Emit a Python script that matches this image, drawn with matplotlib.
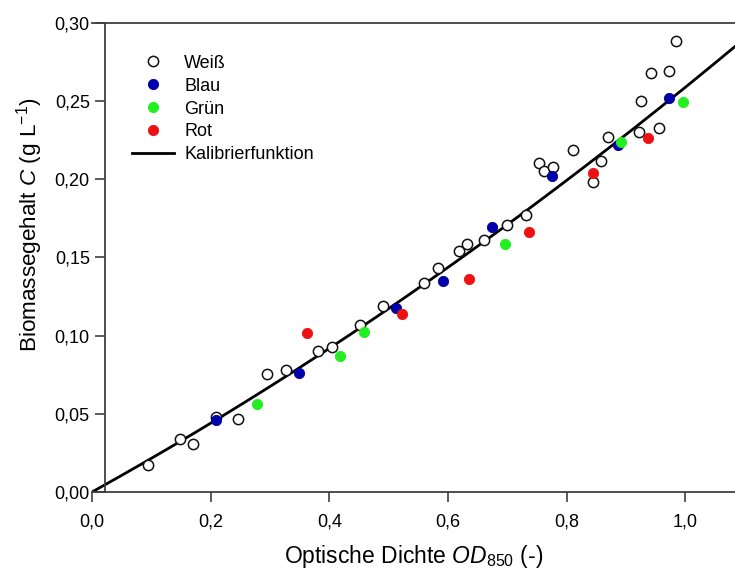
import numpy as np
import matplotlib
matplotlib.use("Agg")
import matplotlib.pyplot as plt
from matplotlib.ticker import FuncFormatter, MultipleLocator

plt.rcParams['font.family'] = ['Liberation Sans', 'DejaVu Sans']
plt.rcParams['mathtext.fontset'] = 'custom'
plt.rcParams['mathtext.rm'] = 'Liberation Sans'
plt.rcParams['mathtext.it'] = 'Liberation Sans:italic'

# ---- data ----
weiss_x = [0.095, 0.148, 0.171, 0.209, 0.246, 0.2945, 0.3266, 0.3817, 0.4047, 0.452,
           0.490, 0.559, 0.584, 0.619, 0.632, 0.661, 0.700, 0.732, 0.754, 0.762,
           0.777, 0.811, 0.845, 0.858, 0.870, 0.923, 0.925, 0.943, 0.9556, 0.972, 0.985]
weiss_y = [0.0173, 0.0337, 0.0309, 0.0482, 0.0469, 0.0755, 0.078, 0.090, 0.093, 0.107,
           0.119, 0.1335, 0.143, 0.1544, 0.1587, 0.1612, 0.1706, 0.177, 0.2103, 0.2052,
           0.2077, 0.2188, 0.198, 0.212, 0.2273, 0.2303, 0.250, 0.2679, 0.2331, 0.2696, 0.2885]
blau_x = [0.2086, 0.349, 0.5126, 0.591, 0.674, 0.776, 0.886, 0.972]
blau_y = [0.046, 0.0763, 0.1177, 0.135, 0.1693, 0.2022, 0.2222, 0.2523]
gruen_x = [0.278, 0.418, 0.459, 0.696, 0.8915, 0.996]
gruen_y = [0.0563, 0.0872, 0.1026, 0.1587, 0.2237, 0.2495]
rot_x = [0.3626, 0.523, 0.636, 0.736, 0.844, 0.937]
rot_y = [0.102, 0.1137, 0.1365, 0.1661, 0.2043, 0.2265]
# calibration function C = a*OD + b*OD^2
kal_a = 0.2103
kal_b = 0.0485

W, H = 735, 572
fig = plt.figure(figsize=(W / 100, H / 100), dpi=100)
ax = fig.add_axes([92 / W, 1 - 492 / H, 1 - 92 / W, (492 - 23) / H])

xlim = (0.0, 1.084)
ax.set_xlim(*xlim)
ax.set_ylim(0.0, 0.30)

xc = np.linspace(0, xlim[1], 200)
ax.plot(xc, kal_a * xc + kal_b * xc ** 2, color='black', lw=2.0, zorder=2,
        label='Kalibrierfunktion')

ms = 7.4
ax.plot(weiss_x, weiss_y, 'o', ms=ms, mfc='white', mec='#111111', mew=1.1, zorder=3,
        label='Weiß', clip_on=False)
ax.plot(blau_x, blau_y, 'o', ms=ms, mfc='#0000b0', mec='#000080', mew=0.6, zorder=4,
        label='Blau')
ax.plot(gruen_x, gruen_y, 'o', ms=ms, mfc='#22ee22', mec='#22ee22', mew=0.6, zorder=4,
        label='Grün')
ax.plot(rot_x, rot_y, 'o', ms=ms, mfc='#ee1111', mec='#ee1111', mew=0.6, zorder=4,
        label='Rot')

spine_col = '#404040'
for s in ['left', 'bottom', 'top']:
    ax.spines[s].set_color(spine_col)
    ax.spines[s].set_linewidth(1.3)
ax.spines['right'].set_visible(False)
ax.spines['left'].set_position(('data', 0.022))

ax.xaxis.set_major_locator(MultipleLocator(0.2))
ax.yaxis.set_major_locator(MultipleLocator(0.05))
ax.xaxis.set_major_formatter(FuncFormatter(lambda v, p: f'{v:.1f}'.replace('.', ',')))
ax.yaxis.set_major_formatter(FuncFormatter(lambda v, p: f'{v:.2f}'.replace('.', ',')))
ax.tick_params(axis='both', direction='out', length=7, width=1.2, color=spine_col,
               labelsize=13)
ax.tick_params(axis='x', pad=8.5)
ax.tick_params(axis='y', pad=4)

ax.set_xlabel('Optische Dichte $\\mathit{OD}_{850}$ (-)', fontsize=16.5, labelpad=9)
ax.set_ylabel('Biomassegehalt $\\mathit{C}$ (g L$^{-1}$)', fontsize=16.2)
ax.yaxis.set_label_coords((45 - 92) / (W - 92), (492 - 225) / 469)

h, l = ax.get_legend_handles_labels()
order = [1, 2, 3, 4, 0]
ax.legend([h[i] for i in order], [l[i] for i in order], loc='upper left',
          bbox_to_anchor=(0.051, 0.948), frameon=False, fontsize=13,
          handlelength=2.3, handletextpad=0.6, labelspacing=0.33, borderaxespad=0)

fig.savefig('out.png', dpi=100)
